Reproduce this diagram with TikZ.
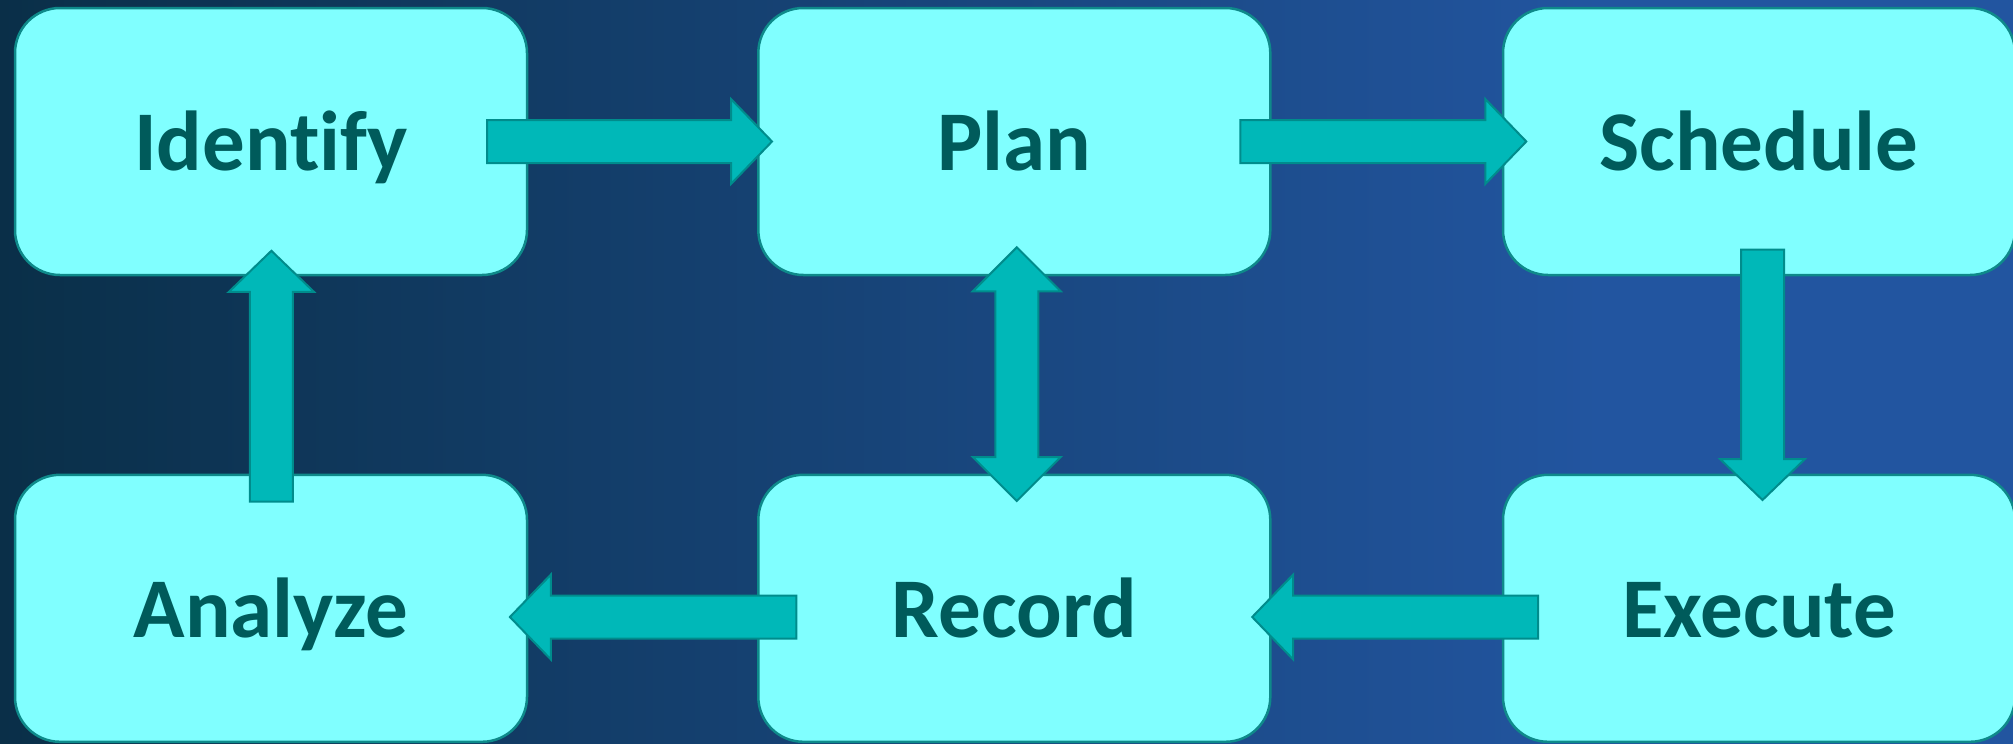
\documentclass[tikz,border=0pt]{standalone}
\usepackage{fontspec}
\setmainfont{Carlito}[Ligatures={NoCommon,NoRequired,NoContextual}]
\usetikzlibrary{calc}
\definecolor{bgL}{HTML}{0A2F48}
\definecolor{bgR}{HTML}{2255A0}
\definecolor{boxfill}{HTML}{80FFFF}
\definecolor{boxline}{HTML}{0E8A8A}
\definecolor{arrfill}{HTML}{00B8B8}
\definecolor{arrline}{HTML}{008C8C}
\definecolor{txt}{HTML}{005B5B}
\newcommand\blockarrow[3]{%
  \begin{scope}[shift={(#1)}, rotate=#2]
    \draw[blk] (0,-21.5) -- (#3-41,-21.5) -- (#3-41,-42.5) -- (#3,0) -- (#3-41,42.5) -- (#3-41,21.5) -- (0,21.5) -- cycle;
  \end{scope}}
\newcommand\dblockarrow[3]{%
  \begin{scope}[shift={(#1)}, rotate=#2]
    \draw[blk] (0,0) -- (44,-44) -- (44,-21.5) -- (#3-44,-21.5) -- (#3-44,-44) -- (#3,0) -- (#3-44,44) -- (#3-44,21.5) -- (44,21.5) -- (44,44) -- cycle;
  \end{scope}}
\begin{document}
\begin{tikzpicture}[x=1pt,y=1pt,
  box/.style={draw=boxline, line width=2.5pt, fill=boxfill, rounded corners=45pt,
    minimum width=512pt, minimum height=267pt, outer sep=0pt, inner sep=0pt,
    text=txt, font=\fontsize{85}{100}\selectfont\bfseries, text height=58pt, text depth=0pt},
  blk/.style={draw=arrline, line width=2pt, fill=arrfill, line join=miter}]
\useasboundingbox (0,0) rectangle (2013,-744);
\shade[left color=bgL, right color=bgR] (0,0) rectangle (1600,-744);
\fill[bgR] (1599,0) rectangle (2013,-744);

\node[box] (I) at (271,-141.5) {Identify};
\node[box] (P) at (1014.3,-141.5) {Plan};
\node[box] (S) at (1759,-141.5) {Schedule};
\node[box] (A) at (271,-608.3) {Analyze};
\node[box] (R) at (1014.3,-608.3) {Record};
\node[box] (E) at (1759,-608.3) {Execute};

\coordinate (s1) at ($(I.east)+(-40,0)$);
\coordinate (s2) at ($(P.east)+(-30,0)$);
\coordinate (s3) at ($(S.south)+(3.5,25.3)$);
\coordinate (s4) at ($(E.west)+(35,-8.7)$);
\coordinate (s5) at ($(R.west)+(38,-8.7)$);
\coordinate (s6) at ($(A.north)+(0.4,-26.7)$);
\coordinate (s7) at ($(P.south)+(2.5,27.7)$);

\blockarrow{s1}{0}{285}
\blockarrow{s2}{0}{286}
\blockarrow{s3}{-90}{250.3}
\blockarrow{s4}{180}{285.8}
\blockarrow{s5}{180}{286.4}
\blockarrow{s6}{90}{250.7}
\dblockarrow{s7}{-90}{253.7}
\end{tikzpicture}
\end{document}
